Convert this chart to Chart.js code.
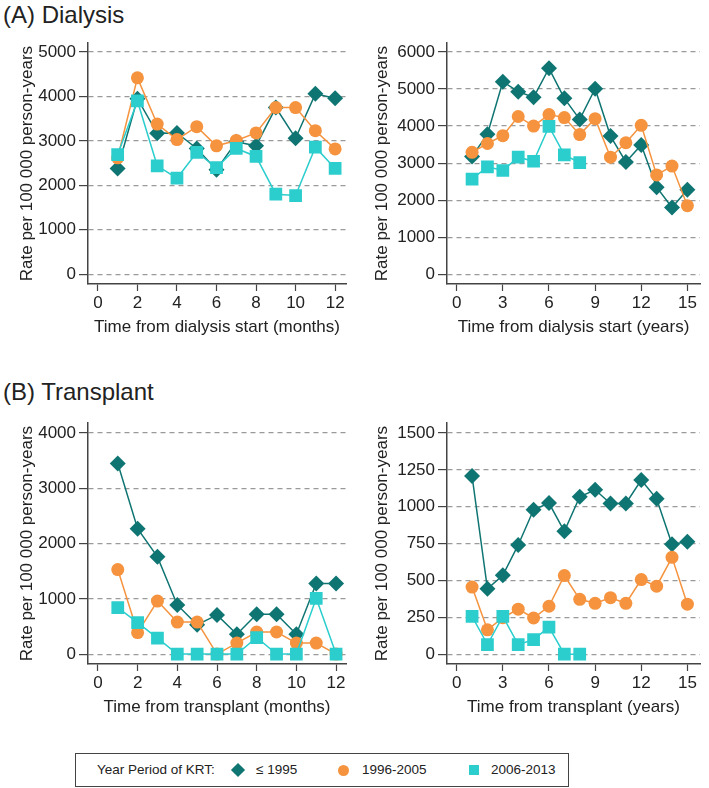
<!DOCTYPE html>
<html>
<head>
<meta charset="utf-8">
<script src="https://cdn.jsdelivr.net/npm/chart.js@4.4.1/dist/chart.umd.min.js"></script>
<style>
  body { margin: 0; background: #fff; font-family: "Liberation Sans", Arial, sans-serif; color: #222; }
  #page { position: relative; width: 709px; height: 788px; overflow: hidden; }
  .panel { position: absolute; }
  .head { position: absolute; left: 3px; font-size: 24px; line-height: 30px; white-space: nowrap; }
  #legend { position: absolute; left: 75px; top: 753px; width: 492px; height: 32px; border: 1px solid #444; font-size: 13.5px; }
  #legend span { position: absolute; top: 8px; white-space: nowrap; }
  #legend i { position: absolute; display: block; }
</style>
</head>
<body>
<div id="page">
  <div class="head" style="top:0px">(A) Dialysis</div>
  <div class="head" style="top:377px">(B) Transplant</div>

  <div class="panel" style="left:0;top:30px;width:355px;height:310px"><canvas id="dialMonths"></canvas></div>
  <div class="panel" style="left:355px;top:30px;width:354px;height:310px"><canvas id="dialYears"></canvas></div>
  <div class="panel" style="left:0;top:410px;width:355px;height:310px"><canvas id="txMonths"></canvas></div>
  <div class="panel" style="left:355px;top:410px;width:354px;height:310px"><canvas id="txYears"></canvas></div>

  <div id="legend">
    <span style="left:21px">Year Period of KRT:</span>
    <i style="left:157px;top:11px;width:10px;height:10px;background:#0f7572;transform:rotate(45deg)"></i>
    <span style="left:180px">≤ 1995</span>
    <i style="left:262px;top:11px;width:11px;height:11px;border-radius:50%;background:#f5933f"></i>
    <span style="left:286px">1996-2005</span>
    <i style="left:393px;top:11px;width:10px;height:10px;background:#2bcdcd"></i>
    <span style="left:415px">2006-2013</span>
  </div>
</div>

<script>
const periods = ['≤ 1995', '1996-2005', '2006-2013'];
const monthsX = [1, 2, 3, 4, 5, 6, 7, 8, 9, 10, 11, 12];
const yearsX = [1, 2, 3, 4, 5, 6, 7, 8, 9, 10, 11, 12, 13, 14, 15];
const monthTicks = [0, 2, 4, 6, 8, 10, 12];
const yearTicks = [0, 3, 6, 9, 12, 15];

// (A) dialysis, by month
const dialMonthTicks = [0, 1000, 2000, 3000, 4000, 5000];
const dialMonthOld = [2380, 3950, 3170, 3180, 2830, 2350, 2980, 2890, 3750, 3060, 4060, 3960];
const dialMonthMid = [2620, 4420, 3380, 3030, 3320, 2890, 3010, 3180, 3750, 3750, 3230, 2820];
const dialMonthNew = [2690, 3900, 2440, 2160, 2740, 2400, 2830, 2650, 1800, 1770, 2860, 2380];

// (A) dialysis, by year
const dialYearTicks = [0, 1000, 2000, 3000, 4000, 5000, 6000];
const dialYearOld = [3180, 3780, 5200, 4930, 4780, 5560, 4750, 4180, 5010, 3730, 3030, 3490, 2350, 1800, 2280];
const dialYearMid = [3290, 3530, 3740, 4260, 4000, 4310, 4230, 3770, 4200, 3160, 3550, 4020, 2680, 2920, 1850];
const dialYearNew = [2570, 2900, 2800, 3160, 3050, 3990, 3220, 3010];

// (B) transplant, by month
const txMonthTicks = [0, 1000, 2000, 3000, 4000];
const txMonthOld = [3450, 2270, 1760, 890, 530, 710, 360, 720, 720, 360, 1280, 1280];
const txMonthMid = [1530, 390, 960, 580, 580, 0, 200, 400, 400, 200, 200, 0];
const txMonthNew = [840, 570, 290, 0, 0, 0, 0, 300, 0, 0, 1010, 0];

// (B) transplant, by year
const txYearTicks = [0, 250, 500, 750, 1000, 1250, 1500];
const txYearOld = [1208, 443, 535, 741, 980, 1025, 833, 1068, 1115, 1022, 1022, 1181, 1054, 745, 762];
const txYearMid = [455, 165, 247, 305, 245, 325, 533, 372, 345, 383, 345, 506, 461, 657, 339];
const txYearNew = [256, 65, 256, 65, 98, 183, 0, 0];

const colors = ['#0f7572', '#f5933f', '#2bcdcd'];
const styles = ['rectRot', 'circle', 'rect'];
const radii = [8, 6.5, 9];

Chart.defaults.font.family = '"Liberation Sans", Arial, sans-serif';
Chart.defaults.font.size = 17;
Chart.defaults.color = '#222';

function pairs(xs, ys) {
    return ys.map(function (y, i) { return { x: xs[i], y: y }; });
}

function makePanel(id, xs, series, xTicks, xMin, xMax, yTicks, yMin, yMax, xTitle, yWidth, padRight) {
    const datasets = series.map(function (vals, k) {
        return {
            label: periods[k],
            data: pairs(xs, vals),
            borderColor: colors[k],
            backgroundColor: colors[k],
            pointBackgroundColor: colors[k],
            pointBorderColor: colors[k],
            pointStyle: styles[k],
            pointRadius: radii[k],
            pointBorderWidth: 0,
            borderWidth: 1.5,
            tension: 0,
            order: 3 - k
        };
    });
    const tickFont = { size: 17, family: '"Liberation Sans", Arial, sans-serif' };
    return new Chart(document.getElementById(id), {
        type: 'line',
        data: { datasets: datasets },
        options: {
            responsive: true,
            maintainAspectRatio: false,
            animation: false,
            layout: { padding: { top: 10, right: padRight, left: 0, bottom: 0 } },
            plugins: { legend: { display: false }, tooltip: { enabled: false } },
            scales: {
                x: {
                    type: 'linear',
                    min: xMin,
                    max: xMax,
                    afterBuildTicks: function (s) { s.ticks = xTicks.map(function (v) { return { value: v }; }); },
                    afterFit: function (s) { s.height = 56; },
                    grid: { drawOnChartArea: false, drawTicks: true, tickLength: 7, tickColor: '#444', tickWidth: 1.2 },
                    border: { color: '#444', width: 1.5 },
                    ticks: { color: '#222', font: tickFont, padding: 2, maxRotation: 0, autoSkip: false, callback: function (v) { return String(v); } },
                    title: { display: true, text: xTitle, color: '#222', font: tickFont, padding: { top: 0, bottom: 2 } }
                },
                y: {
                    min: yMin,
                    max: yMax,
                    afterBuildTicks: function (s) { s.ticks = yTicks.map(function (v) { return { value: v }; }); },
                    afterFit: function (s) { s.width = yWidth; },
                    grid: { drawOnChartArea: true, color: '#9a9a9a', lineWidth: 1.2, tickLength: 9, tickColor: '#444', tickWidth: 1.2 },
                    border: { color: '#444', width: 1.5, dash: [5, 4] },
                    ticks: { color: '#222', font: tickFont, padding: 3, autoSkip: false, callback: function (v) { return String(v); } },
                    title: { display: true, text: 'Rate per 100 000 person-years', color: '#222', font: tickFont, padding: { top: 17, bottom: 0 } }
                }
            }
        }
    });
}

makePanel('dialMonths', monthsX, [dialMonthOld, dialMonthMid, dialMonthNew], monthTicks, -0.5, 12.55, dialMonthTicks, -222, 5200, 'Time from dialysis start (months)', 88, 6);
makePanel('dialYears', yearsX, [dialYearOld, dialYearMid, dialYearNew], yearTicks, -0.63, 15.82, dialYearTicks, -267, 6240, 'Time from dialysis start (years)', 92, 0);
makePanel('txMonths', monthsX, [txMonthOld, txMonthMid, txMonthNew], monthTicks, -0.5, 12.5, txMonthTicks, -179, 4179, 'Time from transplant (months)', 88, 6);
makePanel('txYears', yearsX, [txYearOld, txYearMid, txYearNew], yearTicks, -0.63, 15.82, txYearTicks, -67, 1567, 'Time from transplant (years)', 92, 0);
</script>
</body>
</html>
